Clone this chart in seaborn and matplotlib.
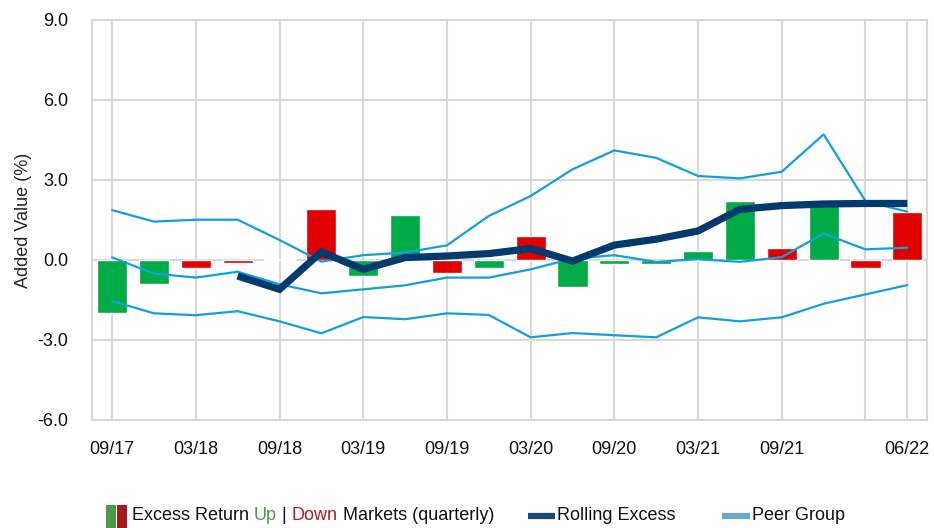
import numpy as np
import pandas as pd
import matplotlib
matplotlib.use("Agg")
import matplotlib.pyplot as plt
from matplotlib.patches import Rectangle
from matplotlib.lines import Line2D
import seaborn as sns

# Quarterly data
quarters = ["09/17", "12/17", "03/18", "06/18", "09/18", "12/18", "03/19", "06/19",
            "09/19", "12/19", "03/20", "06/20", "09/20", "12/20", "03/21", "06/21",
            "09/21", "12/21", "03/22", "06/22"]
excess_return = [-2.0, -0.9, -0.3, -0.1, 0.05, 1.9, -0.6, 1.7, -0.5, -0.3,
                 0.9, -1.0, -0.15, -0.15, 0.35, 2.2, 0.45, 2.2, -0.3, 1.8]
market = ["Up", "Up", "Down", "Down", "Up", "Down", "Up", "Up", "Down", "Up",
          "Down", "Up", "Up", "Up", "Up", "Up", "Down", "Up", "Down", "Down"]
rolling_excess = [np.nan, np.nan, np.nan, -0.6, -1.1, 0.3, -0.35, 0.09, 0.15, 0.24,
                  0.43, -0.04, 0.56, 0.78, 1.09, 1.9, 2.04, 2.1, 2.12, 2.12]
peer_high = [1.87, 1.44, 1.51, 1.51, 0.75, -0.06, 0.18, 0.28, 0.55, 1.65,
             2.4, 3.4, 4.11, 3.83, 3.15, 3.06, 3.31, 4.71, 2.21, 1.81]
peer_median = [0.1, -0.51, -0.66, -0.44, -0.91, -1.25, -1.1, -0.95, -0.66, -0.66,
               -0.35, 0.05, 0.18, -0.07, 0.03, -0.07, 0.11, 0.99, 0.4, 0.46]
peer_low = [-1.54, -2.0, -2.07, -1.92, -2.3, -2.75, -2.14, -2.22, -2.0, -2.06,
            -2.9, -2.74, -2.82, -2.9, -2.15, -2.3, -2.15, -1.64, -1.29, -0.94]
tick_positions = [0, 2, 4, 6, 8, 10, 12, 14, 16, 18, 19]
tick_labels = ["09/17", "03/18", "09/18", "03/19", "09/19", "03/20", "09/20",
               "03/21", "09/21", "", "06/22"]
y_ticks = [-6.0, -3.0, 0.0, 3.0, 6.0, 9.0]

GREEN, RED = "#00aa45", "#e00000"
NAVY, PEER = "#003a6e", "#119fe2"
GRID = "#d9d9d9"

sns.set_style("white")
plt.rcParams["font.family"] = ["Liberation Sans", "DejaVu Sans"]

df = pd.DataFrame({"pos": np.arange(len(quarters)), "quarter": quarters,
                   "excess": excess_return, "market": market,
                   "rolling": rolling_excess, "high": peer_high,
                   "median": peer_median, "low": peer_low})

fig = plt.figure(figsize=(9.34, 5.28), dpi=100)
ax = fig.add_axes([92 / 934, 1 - 420 / 528, (927 - 92) / 934, 400 / 528])

sns.barplot(data=df, x="pos", y="excess", hue="market",
            palette={"Up": GREEN, "Down": RED}, dodge=False, width=0.72,
            saturation=1, legend=False, ax=ax, zorder=2)

for col in ["high", "median", "low"]:
    sns.lineplot(data=df, x="pos", y=col, color=PEER, linewidth=1.6, ax=ax,
                 zorder=3, legend=False)
sns.lineplot(data=df.dropna(subset=["rolling"]), x="pos", y="rolling", color=NAVY,
             linewidth=5.2, ax=ax, zorder=4, legend=False,
             solid_capstyle="butt", solid_joinstyle="miter")

ax.set_xlim(-0.48, 19.47)
ax.set_ylim(-6, 9)
ax.set_xticks(tick_positions)
ax.set_xticklabels(tick_labels)
ax.set_yticks(y_ticks)
ax.set_yticklabels([f"{v:.1f}" for v in y_ticks])
ax.set_xlabel("")

fs = 13
ax.set_ylabel("Added Value (%)", fontsize=fs, labelpad=4)

ax.grid(True, color=GRID, linewidth=1.5, zorder=0)
ax.set_axisbelow(True)
for s in ax.spines.values():
    s.set_color(GRID)
    s.set_linewidth(1.5)
ax.tick_params(axis="both", length=9, width=1.5, color=GRID, labelsize=fs,
               labelcolor="#111111")
ax.tick_params(axis="y", pad=8)
ax.tick_params(axis="x", pad=6)

# Legend row drawn on the figure
yc = 12 / 528
fig.patches.append(Rectangle((106 / 934, 0), 10 / 934, 23 / 528, transform=fig.transFigure,
                             facecolor="#4a9a48", edgecolor="none"))
fig.patches.append(Rectangle((117 / 934, 0), 10 / 934, 23 / 528, transform=fig.transFigure,
                             facecolor="#a31b1e", edgecolor="none"))

renderer = fig.canvas.get_renderer()
x = 132 / 934
for piece, color in [("Excess Return ", "#111111"), ("Up", "#4a9a48"), (" | ", "#111111"),
                     ("Down", "#b01e22"), (" Markets (quarterly)", "#111111")]:
    t = fig.text(x, yc, piece, color=color, fontsize=fs, va="center", ha="left")
    bb = t.get_window_extent(renderer=renderer)
    x += bb.width / fig.bbox.width

fig.lines.append(Line2D([528 / 934, 555 / 934], [yc, yc], transform=fig.transFigure,
                        color="#1c4a78", linewidth=4.5, solid_capstyle="butt"))
fig.text(557 / 934, yc, "Rolling Excess", color="#111111", fontsize=fs, va="center", ha="left")
fig.lines.append(Line2D([722 / 934, 750 / 934], [yc, yc], transform=fig.transFigure,
                        color="#6aaac8", linewidth=4.5, solid_capstyle="butt"))
fig.text(752 / 934, yc, "Peer Group", color="#111111", fontsize=fs, va="center", ha="left")

fig.savefig("out.png", dpi=100)
